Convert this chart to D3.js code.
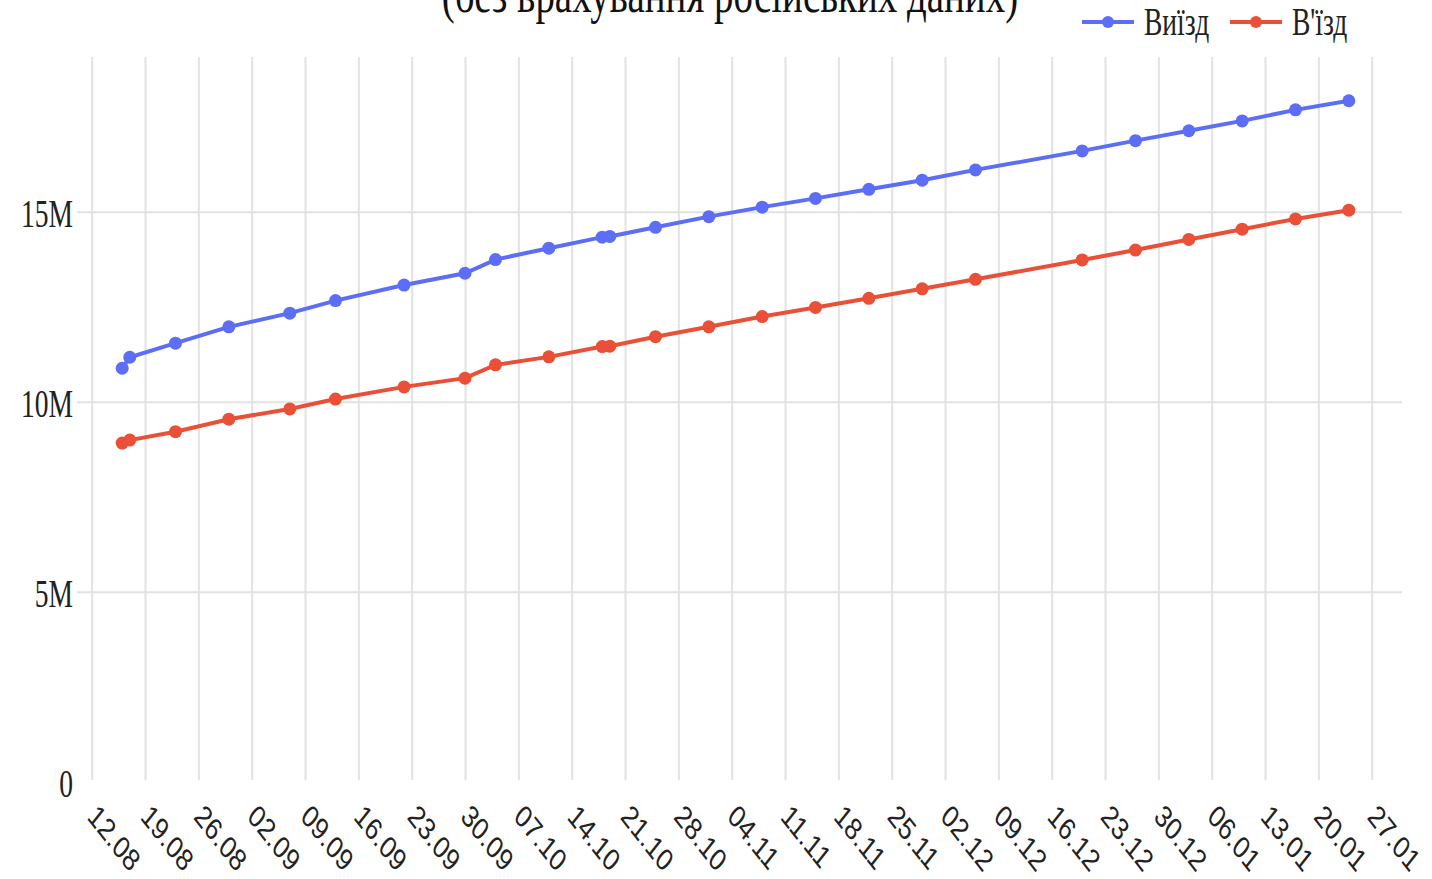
<!DOCTYPE html>
<html>
<head>
<meta charset="utf-8">
<script src="https://cdn.jsdelivr.net/npm/d3@7"></script>
<style>
  body { margin: 0; background: #fff; }
  svg { display: block; }
</style>
</head>
<body>
<svg id="chart"></svg>
<script>
// Dates of the points (dd.mm on the axis)
const dates = [
  "2022-08-16", "2022-08-17", "2022-08-23", "2022-08-30", "2022-09-07",
  "2022-09-13", "2022-09-22", "2022-09-30", "2022-10-04", "2022-10-11",
  "2022-10-18", "2022-10-19", "2022-10-25", "2022-11-01", "2022-11-08",
  "2022-11-15", "2022-11-22", "2022-11-29", "2022-12-06", "2022-12-20",
  "2022-12-27", "2023-01-03", "2023-01-10", "2023-01-17", "2023-01-24",
];

// Cumulative crossings, millions
const departures = [
  10.88, 11.17, 11.54, 11.97, 12.33, 12.66, 13.07, 13.38, 13.74, 14.04,
  14.33, 14.35, 14.59, 14.87, 15.12, 15.35, 15.59, 15.83, 16.10, 16.60,
  16.87, 17.13, 17.39, 17.68, 17.92,
];
const arrivals = [
  8.91, 8.99, 9.21, 9.54, 9.81, 10.07, 10.39, 10.62, 10.97, 11.18,
  11.45, 11.46, 11.71, 11.97, 12.24, 12.48, 12.72, 12.97, 13.22, 13.73,
  13.99, 14.27, 14.54, 14.81, 15.04,
];

const tickDates = [
  "2022-08-12", "2022-08-19", "2022-08-26", "2022-09-02", "2022-09-09",
  "2022-09-16", "2022-09-23", "2022-09-30", "2022-10-07", "2022-10-14",
  "2022-10-21", "2022-10-28", "2022-11-04", "2022-11-11", "2022-11-18",
  "2022-11-25", "2022-12-02", "2022-12-09", "2022-12-16", "2022-12-23",
  "2022-12-30", "2023-01-06", "2023-01-13", "2023-01-20", "2023-01-27",
];
const yTicks = [0, 5, 10, 15];
const yTickLabels = ["0", "5M", "10M", "15M"];

const seriesNames = ["Виїзд", "В'їзд"];
const colors = ["#5d6ef6", "#ea4f37"];
const title = "(без врахування російських даних)";

const W = 1432, H = 879;
const parse = d3.timeParse("%Y-%m-%d");
const fmt = d3.timeFormat("%d.%m");

const svg = d3.select("#chart").attr("width", W).attr("height", H);

const x = d3.scaleTime()
  .domain([parse(tickDates[0]), parse(tickDates[tickDates.length - 1])])
  .range([91.7, 1371.7]);

const y = d3.scaleLinear().domain([0, 15]).range([781.7, 211.7]);

const gridTop = 57, gridBottom = 780, gridLeft = 77, gridRight = 1402;

// Vertical grid + x labels
const xAxis = svg.append("g")
  .attr("transform", `translate(0,${gridBottom})`)
  .call(d3.axisBottom(x)
    .tickValues(tickDates.map(parse))
    .tickSize(-(gridBottom - gridTop))
    .tickFormat(fmt));
xAxis.select(".domain").remove();
xAxis.selectAll(".tick line").attr("stroke", "#e2e2e2").attr("stroke-width", 2);
xAxis.selectAll(".tick text")
  .attr("y", null).attr("dy", null)
  .attr("text-anchor", "start")
  .attr("transform", "translate(-6,38) scale(0.95,1.2) rotate(45)")
  .style("font-family", "'Liberation Sans', Arial, sans-serif")
  .style("font-size", "26px")
  .attr("fill", "#222");

// Horizontal grid + y labels
const yAxis = svg.append("g")
  .attr("transform", `translate(${gridLeft},0)`)
  .call(d3.axisLeft(y)
    .tickValues(yTicks)
    .tickSize(0)
    .tickFormat((d, i) => yTickLabels[i]));
yAxis.select(".domain").remove();
yAxis.selectAll(".tick line")
  .filter((d) => d !== 0)
  .attr("x2", gridRight - gridLeft)
  .attr("stroke", "#e2e2e2")
  .attr("stroke-width", 2);
yAxis.selectAll(".tick text")
  .attr("x", null).attr("dy", null)
  .attr("text-anchor", "end")
  .attr("dominant-baseline", "central")
  .attr("transform", "translate(-4,1) scale(0.95,1.35)")
  .style("font-family", "'Liberation Serif', 'Times New Roman', serif")
  .style("font-size", "29px")
  .attr("fill", "#222");

// Lines and points
const seriesData = [departures, arrivals];
const line = d3.line()
  .x((d, i) => x(parse(dates[i])))
  .y((d) => y(d));

seriesData.forEach((values, s) => {
  svg.append("path")
    .datum(values)
    .attr("fill", "none")
    .attr("stroke", colors[s])
    .attr("stroke-width", 4)
    .attr("d", line);

  svg.append("g")
    .selectAll("circle")
    .data(values)
    .enter()
    .append("circle")
    .attr("cx", (d, i) => x(parse(dates[i])))
    .attr("cy", (d) => y(d))
    .attr("r", 6.5)
    .attr("fill", colors[s]);
});

// Title (mostly cut off at the top, as in the source)
svg.append("text")
  .attr("transform", "translate(730,12) scale(0.95,1.35)")
  .attr("text-anchor", "middle")
  .style("font-family", "'Liberation Serif', 'Times New Roman', serif")
  .style("font-size", "41px")
  .attr("fill", "#111")
  .text(title);

// Legend
const legendX = [1082, 1230];
seriesNames.forEach((name, s) => {
  const g = svg.append("g").attr("transform", `translate(${legendX[s]},22)`);
  g.append("line")
    .attr("x1", 0).attr("x2", 52)
    .attr("stroke", colors[s]).attr("stroke-width", 4);
  g.append("circle").attr("cx", 26).attr("r", 6).attr("fill", colors[s]);
  g.append("text")
    .attr("transform", "translate(62,13) scale(0.95,1.35)")
    .style("font-family", "'Liberation Serif', 'Times New Roman', serif")
    .style("font-size", "29px")
    .attr("fill", "#222")
    .text(name);
});
</script>
</body>
</html>
